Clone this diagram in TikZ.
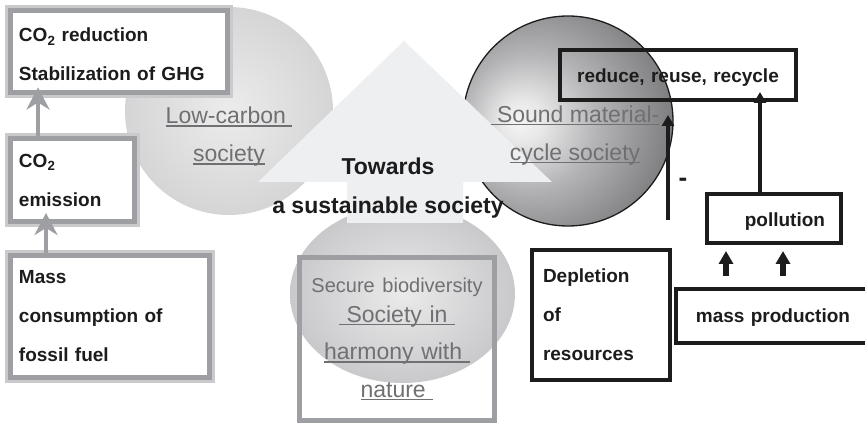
\documentclass[tikz,border=0pt]{standalone}
\usepackage{fontspec}
\setmainfont{Liberation Sans}
\usetikzlibrary{arrows.meta}
\definecolor{boxgrey}{RGB}{158,159,163}
\definecolor{shadegrey}{RGB}{202,202,205}
\definecolor{labelgrey}{RGB}{112,112,114}
\definecolor{arrowfill}{RGB}{238,239,241}
\definecolor{inkblack}{RGB}{28,28,28}
\definecolor{lowin}{RGB}{236,236,237}
\definecolor{lowout}{RGB}{190,190,192}
\definecolor{natin}{RGB}{234,234,235}
\definecolor{natout}{RGB}{168,168,171}
\definecolor{soundin}{RGB}{245,245,245}
\definecolor{soundhi}{RGB}{232,232,233}
\definecolor{soundmid}{RGB}{180,180,182}
\definecolor{sounddim}{RGB}{130,130,132}
\definecolor{sounddark}{RGB}{85,85,87}
\definecolor{soundout}{RGB}{46,46,48}
\newsavebox{\ulbox}
\newcommand{\uln}[1]{\leavevmode\sbox{\ulbox}{#1}\rlap{\rule[-3pt]{\wd\ulbox}{1.5pt}}\usebox{\ulbox}}
\newcommand{\boxfont}{\fontsize{19}{39}\selectfont\bfseries}
\newcommand{\circlefont}{\fontsize{23}{38}\selectfont}
\pgfdeclareradialshading{lowball}{\pgfpoint{0bp}{0bp}}{color(0bp)=(lowin); color(50bp)=(lowout)}
\pgfdeclareradialshading{natureball}{\pgfpoint{0bp}{0bp}}{color(0bp)=(natin); color(50bp)=(natout)}
\pgfdeclareradialshading{soundball}{\pgfpoint{-12bp}{0bp}}{color(0bp)=(soundin); color(5bp)=(soundhi); color(16bp)=(soundmid); color(30bp)=(sounddim); color(42bp)=(sounddark); color(54bp)=(soundout); color(64bp)=(soundout)}
\tikzset{
  greybox/.style={draw=boxgrey, line width=5pt, preaction={draw=shadegrey, line width=11pt},
    fill=white, anchor=north west, outer sep=0pt, inner xsep=8.5pt, inner ysep=0pt,
    align=left, font=\boxfont, text=inkblack},
  blackbox/.style={draw=inkblack, line width=4.5pt, fill=white, anchor=north west,
    outer sep=0pt, inner ysep=0pt, font=\boxfont, text=inkblack},
  circtext/.style={text=labelgrey, font=\circlefont, align=center},
  greyarrow/.style={draw=boxgrey, line width=4pt, -{Stealth[length=22pt, width=23pt, inset=7pt]}},
  blackarrow/.style={draw=inkblack, line width=4.5pt, -{Triangle[length=11pt, width=12pt]}},
}
\begin{document}
\begin{tikzpicture}[x=1pt, y=-1pt]
    % Frame
    \useasboundingbox (0,0) rectangle (865,427);
    \clip (0,0) rectangle (865,427);
    \fill[white] (0,0) rectangle (865,427);

    % Three societies
    \shade[shading=lowball] (229,111) circle (104pt);
    \shade[shading=natureball] (402.5,294) ellipse [x radius=112.5pt, y radius=89pt];
    \shade[shading=soundball] (568,121) circle (105pt);
    \draw[inkblack, line width=1.3pt] (568,121) circle (105pt);

    % 3R box, open so the dark circle shows through
    \node[blackbox, fill=none, text width=228pt, minimum height=50pt, inner xsep=4pt, align=center, text depth=0pt, text height=16pt] (rrr) at (560,50) {reduce, reuse, recycle};

    % Big arrow
    \fill[arrowfill] (404,41) -- (552,182) -- (463,182) -- (463,223) -- (347,223) -- (347,182) -- (258,182) -- cycle;

    % Circle labels
    \node[circtext] (lowlabel) at (229,137) {\uln{Low-carbon\ }\\\uln{society}};
    \node[circtext] (soundlabel) at (575,135.5) {\uln{\ Sound material-}\\\uln{cycle society}};
    \node[font=\fontsize{23}{39}\selectfont\bfseries, align=center, text=inkblack] (goal) at (388,188) {Towards\\a sustainable society};

    % Left chain
    \node[greybox, text width=200pt, minimum height=82pt, text height=20pt] (reduc) at (10.5,10.5) {CO\textsubscript{2} reduction\\Stabilization of GHG};
    \node[greybox, text width=107pt, minimum height=83pt] (emis) at (10.5,138.5) {CO\textsubscript{2}\\emission};
    \node[greybox, text width=182pt, minimum height=122pt] (fossil) at (10.5,255.5) {Mass\\consumption of\\fossil fuel};
    \draw[greyarrow, shorten >=-5pt] ([xshift=-34.5pt]emis.north) -- ([xshift=-34.5pt]emis.north |- reduc.south);
    \draw[greyarrow, shorten >=-8.5pt] ([xshift=-64pt]fossil.north) -- ([xshift=-64pt]fossil.north |- emis.south);

    % Nature box
    \node[draw=boxgrey, line width=4.5pt, anchor=north west, outer sep=0pt, inner sep=0pt,
          text width=195pt, minimum height=163pt, circtext, font=\fontsize{23}{37.5}\selectfont]
          (nature) at (299.5,257.5)
          {{\fontsize{20}{24}\selectfont Secure biodiversity}\\[-7.5pt]\uln{\ Society in\ }\\\uln{harmony with\ }\\\uln{nature\ }};

    % Right chain
    \node[blackbox, text width=102pt, minimum height=49pt, inner xsep=16pt, align=right, text depth=0pt, text height=17pt] (pollu) at (707,194) {pollution};
    \node[blackbox, text width=116pt, minimum height=130pt, inner xsep=11pt, align=left] (deplete) at (532,250) {Depletion\\of\\resources};
    \node[blackbox, text width=170pt, minimum height=54pt, inner xsep=12pt, align=center, text depth=0pt, text height=14pt] (massprod) at (676,289) {mass production};

    \draw[blackarrow, shorten >=-8pt] ([xshift=-14pt]pollu.north) -- ([xshift=-14pt]pollu.north |- rrr.south);
    \foreach \dx in {-47,10}
        \draw[blackarrow, line width=6pt, -{Triangle[length=13pt, width=14pt]}, shorten <=13pt, shorten >=8pt]
            ([xshift=\dx pt]massprod.north) -- ([xshift=\dx pt]massprod.north |- pollu.south);

    \coordinate (cyclefoot) at (668,220);
    \coordinate (cycletip) at (668,115);
    \draw[blackarrow] (cyclefoot) -- (cycletip);
    \node[font=\fontsize{26}{26}\selectfont\bfseries, text=inkblack] (minus) at (683,182) {-};
\end{tikzpicture}
\end{document}
